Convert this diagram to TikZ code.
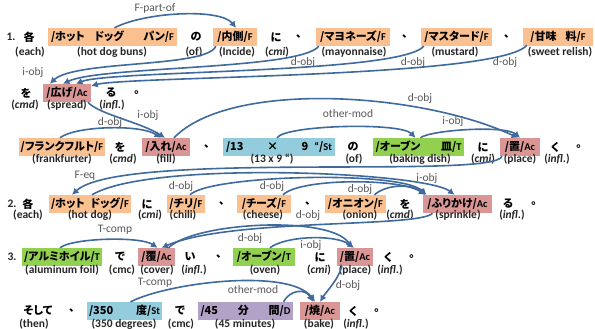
\documentclass[tikz,border=0pt]{standalone}
\usepackage{fontspec}
\setmainfont{Carlito}
\newfontfamily\jpf{Noto Sans CJK JP}[RawFeature=+palt]
\usetikzlibrary{arrows.meta,calc}

\definecolor{colF}{HTML}{FAC090}
\definecolor{colA}{HTML}{D99694}
\definecolor{colS}{HTML}{93CDDD}
\definecolor{colT}{HTML}{92D050}
\definecolor{colD}{HTML}{B3A2C7}
\definecolor{colR}{HTML}{3F6A9E}
\definecolor{colL}{HTML}{595959}
\definecolor{colG}{HTML}{262626}

% type tag after a token, e.g. /F, /Ac
\newcommand\tg[1]{/{\rmfamily\bfseries\fontsize{10.5}{11}\selectfont #1}}

\tikzset{
  jp/.style={font=\jpf\bfseries\fontsize{11}{13}\selectfont, inner sep=0pt},
  bx/.style={jp, minimum height=18pt, inner xsep=2pt},
  Fb/.style={bx, fill=colF},
  Ab/.style={bx, fill=colA},
  Sb/.style={bx, fill=colS},
  Tb/.style={bx, fill=colT},
  Db/.style={bx, fill=colD},
  gl/.style={font=\bfseries\fontsize{11.5}{13}\selectfont, text=colG, inner sep=0pt},
  lab/.style={font=\fontsize{11.5}{13}\selectfont, text=colL, inner sep=0pt},
  rel/.style={draw=colR, line width=1.6pt, -{Latex[length=6.5pt,width=7pt]}},
}

\begin{document}
\begin{tikzpicture}[x=1pt,y=-1pt]
\useasboundingbox (0,0) rectangle (595,329);
\fill[white] (0,0) rectangle (595,329);

% ---------- sentence 1, first line ----------
\node[gl] (num1) at (11,37) {1.};
\node[jp] (r1a) at (29,37) {各};
\node[gl] (r1a-g) at (30,52) {(each)};
\node[Fb, minimum width=129pt] (hdb) at (112.5,37) {\makebox[123pt][s]{/ホット\hfill ドッグ\hfill\hfill パン\tg{F}}};
\node[gl] (hdb-g) at (112,52) {(hot dog buns)};
\node[jp] (r1no) at (196,37) {の};
\node[gl] (r1no-g) at (194,52) {(of)};
\node[Fb, minimum width=44pt] (uchi) at (235,37) {/内側\tg{F}};
\node[gl] (uchi-g) at (237,52) {(Incide)};
\node[jp] (r1ni) at (276,37) {に};
\node[gl] (r1ni-g) at (277,52) {(\textit{cmi})};
\node[jp] (r1c1) at (299,37) {、};
\node[Fb, minimum width=74pt] (mayo) at (353,37) {/マヨネーズ\tg{F}};
\node[gl] (mayo-g) at (354,52) {(mayonnaise)};
\node[jp] (r1c2) at (405,37) {、};
\node[Fb, minimum width=71pt] (must) at (456.5,37) {/マスタード\tg{F}};
\node[gl] (must-g) at (455,52) {(mustard)};
\node[jp] (r1c3) at (507,37) {、};
\node[Fb, minimum width=70pt] (amami) at (558,37) {/甘味\hspace{9pt}料\tg{F}};
\node[gl] (amami-g) at (560,52) {(sweet relish)};

% ---------- sentence 1, second line ----------
\node[jp] (r1o) at (26,93) {を};
\node[gl] (r1o-g) at (25,105) {(\textit{cmd})};
\node[Ab, minimum width=48pt] (kobe) at (67,93) {/広げ\tg{Ac}};
\node[gl] (kobe-g) at (67,105) {(spread)};
\node[jp] (r1ru) at (111,93) {る};
\node[gl] (r1ru-g) at (112,105) {(\textit{infl.})};
\node[jp] (r1p) at (137,93) {。};

% ---------- sentence 1, third line ----------
\node[Fb, minimum width=84pt] (frank) at (62,147) {/フランクフルト\tg{F}};
\node[gl] (frank-g) at (62,159) {(frankfurter)};
\node[jp] (r2o) at (120,147) {を};
\node[gl] (r2o-g) at (123,159) {(\textit{cmd})};
\node[Ab, minimum width=48pt] (ire) at (166,147) {/入れ\tg{Ac}};
\node[gl] (ire-g) at (166,159) {(fill)};
\node[jp] (r2c1) at (207,147) {、};
\node[Sb, minimum width=112pt] (st13) at (279,147) {\makebox[106pt][s]{/13\hfill ×\hfill 9\hspace{6pt}{\rmfamily“}\tg{St}}};
\node[gl] (st13-g) at (272,159) {(13 x 9 “)};
\node[jp] (r2no) at (353,147) {の};
\node[gl] (r2no-g) at (354,159) {(of)};
\node[Tb, minimum width=91pt] (oven2) at (418.5,147) {\makebox[86pt][s]{/オーブン\hfill 皿\tg{T}}};
\node[gl] (oven2-g) at (420,159) {(baking dish)};
\node[jp] (r2ni) at (483,147) {に};
\node[gl] (r2ni-g) at (483,159) {(\textit{cmi})};
\node[Ab, minimum width=40pt] (oki2) at (520,147) {/置\tg{Ac}};
\node[gl] (oki2-g) at (520,159) {(place)};
\node[jp] (r2ku) at (555,147) {く};
\node[gl] (r2ku-g) at (557,159) {(\textit{infl.})};
\node[jp] (r2p) at (579,147) {。};

% ---------- sentence 2 ----------
\node[gl] (num2) at (12,204) {2.};
\node[jp] (r3a) at (28,204) {各};
\node[gl] (r3a-g) at (28,215) {(each)};
\node[Fb, minimum width=82pt] (hd2) at (90,204) {\makebox[78pt][s]{/ホット\hfill ドッグ\tg{F}}};
\node[gl] (hd2-g) at (90,215) {(hot dog)};
\node[jp] (r3ni) at (147,204) {に};
\node[gl] (r3ni-g) at (150,215) {(\textit{cmi})};
\node[Fb, minimum width=38pt] (chili) at (186,204) {/チリ\tg{F}};
\node[gl] (chili-g) at (183,215) {(chili)};
\node[jp] (r3c1) at (222,204) {、};
\node[Fb, minimum width=54pt] (cheese) at (264,204) {/チーズ\tg{F}};
\node[gl] (cheese-g) at (263,215) {(cheese)};
\node[jp] (r3c2) at (308,204) {、};
\node[Fb, minimum width=61pt] (onion) at (355.5,204) {/オニオン\tg{F}};
\node[gl] (onion-g) at (360,215) {(onion)};
\node[jp] (r3o) at (405,204) {を};
\node[gl] (r3o-g) at (400,215) {(\textit{cmd})};
\node[Ab, minimum width=69pt] (furi) at (457.5,204) {/ふりかけ\tg{Ac}};
\node[gl] (furi-g) at (458,215) {(sprinkle)};
\node[jp] (r3ru) at (508,204) {る};
\node[gl] (r3ru-g) at (512,215) {(\textit{infl.})};
\node[jp] (r3p) at (534,204) {。};

% ---------- sentence 3, first line ----------
\node[gl] (num3) at (12,257) {3.};
\node[Tb, minimum width=80pt] (alu) at (62,257) {/アルミホイル\tg{T}};
\node[gl] (alu-g) at (62,270) {(aluminum foil)};
\node[jp] (r4de) at (120,257) {で};
\node[gl] (r4de-g) at (122,270) {(cmc)};
\node[Ab, minimum width=37pt] (kabu) at (156.5,257) {/覆\tg{Ac}};
\node[gl] (kabu-g) at (157,270) {(cover)};
\node[jp] (r4i) at (190,257) {い};
\node[gl] (r4i-g) at (194,270) {(\textit{infl.})};
\node[jp] (r4c1) at (219,257) {、};
\node[Tb, minimum width=62pt] (oven4) at (264,257) {/オーブン\tg{T}};
\node[gl] (oven4-g) at (265,270) {(oven)};
\node[jp] (r4ni) at (320,257) {に};
\node[gl] (r4ni-g) at (319,270) {(\textit{cmi})};
\node[Ab, minimum width=36pt] (oki4) at (355,257) {/置\tg{Ac}};
\node[gl] (oki4-g) at (355,270) {(place)};
\node[jp] (r4ku) at (388,257) {く};
\node[gl] (r4ku-g) at (390,270) {(\textit{infl.})};
\node[jp] (r4p) at (412,257) {。};

% ---------- sentence 3, second line ----------
\node[jp] (r5a) at (38,311) {そして};
\node[gl] (r5a-g) at (34,324) {(then)};
\node[jp] (r5c1) at (72,311) {、};
\node[Sb, minimum width=75pt] (st350) at (124.5,311) {\makebox[71pt][s]{/350\hfill 度\tg{St}}};
\node[gl] (st350-g) at (124,324) {(350 degrees)};
\node[jp] (r5de) at (180,311) {で};
\node[gl] (r5de-g) at (181,324) {(cmc)};
\node[Db, minimum width=95pt] (m45) at (245.5,311) {\makebox[90pt][s]{/45\hfill 分\hfill 間\tg{D}}};
\node[gl] (m45-g) at (245,324) {(45 minutes)};
\node[Ab, minimum width=40pt] (yaki) at (320,311) {/焼\tg{Ac}};
\node[gl] (yaki-g) at (319,324) {(bake)};
\node[jp] (r5ku) at (353,311) {く};
\node[gl] (r5ku-g) at (356,324) {(\textit{infl.})};
\node[jp] (r5p) at (377,311) {。};

% ---------- relations ----------
\draw[rel] ($(hdb.north)+(2,0)$) .. controls (145,12) and (220,8) .. ($(uchi.north)+(1,0)$);
\node[lab] (l-fpo) at (155,8) {F-part-of};

\draw[rel] ($(uchi.south west)+(3,0)$) .. controls (207,68) and (75,60) .. ($(kobe.north west)+(7,0)$);
\node[lab] (l-io1) at (33,72) {i-obj};
\draw[rel] ($(mayo.south west)+(3,0)$) .. controls (300,70) and (100,66) .. ($(kobe.north)+(-4,0)$);
\node[lab] (l-do1) at (303,62) {d-obj};
\draw[rel] ($(must.south west)+(3,0)$) .. controls (400,74) and (110,70) .. ($(kobe.north)+(9,0)$);
\node[lab] (l-do2) at (413,62) {d-obj};
\draw[rel] ($(amami.south west)+(4,-1)$) .. controls (500,78) and (130,76) .. ($(kobe.north east)+(0,2)$);
\node[lab] (l-do3) at (505,62) {d-obj};

\draw[rel] ($(kobe.south)+(21,0)$) .. controls (98,114) and (140,122) .. ($(ire.north)+(-1,0)$);
\node[lab] (l-io2) at (148,115) {i-obj};
\draw[rel] ($(frank.north)+(-2,0)$) .. controls (75,126) and (140,124) .. ($(ire.north)+(-5,0)$);
\node[lab] (l-do4) at (110,122) {d-obj};
\draw[rel] ($(ire.north)+(8,0)$) .. controls (230,80) and (420,92) .. ($(oki2.north)+(-2,0)$);
\node[lab] (l-do5) at (420,98) {d-obj};
\draw[rel] ($(st13.north)+(-2,0)$) .. controls (285,125) and (400,122) .. ($(oven2.north)+(-3,0)$);
\node[lab] (l-om1) at (348,114) {other-mod};
\draw[rel] ($(oven2.north)+(2,0)$) .. controls (430,130) and (505,125) .. (oki2.north);
\node[lab] (l-io3) at (453,121) {i-obj};

\draw[rel] ($(oki2.south)+(-18,0)$) .. controls (495,180) and (120,150) .. ($(hd2.north)+(-18,0)$);
\node[lab] (l-feq) at (85,176) {F-eq};
\draw[rel] ($(hd2.north)+(2,0)$) .. controls (150,160) and (425,172) .. ($(furi.north)+(-3,0)$);
\node[lab] (l-io4) at (427,178) {i-obj};
\draw[rel] ($(chili.north)+(4,0)$) .. controls (210,175) and (400,170) .. ($(furi.north)+(-31,0)$);
\node[lab] (l-do6) at (181,186) {d-obj};
\draw[rel] ($(cheese.north)+(19,0)$) .. controls (300,178) and (400,178) .. ($(furi.north)+(-32,0)$);
\node[lab] (l-do7) at (272,186) {d-obj};
\draw[rel] ($(onion.north)+(19,0)$) .. controls (385,185) and (410,183) .. ($(furi.north)+(-32,0)$);
\node[lab] (l-do8) at (360,189) {d-obj};

\draw[rel] ($(furi.south)+(-25,0)$) .. controls (420,228) and (230,218) .. ($(kabu.north)+(5,0)$);
\node[lab] (l-do9) at (308,215) {d-obj};
\draw[rel] ($(alu.north)+(-2,0)$) .. controls (72,238) and (140,236) .. ($(kabu.north)+(1,0)$);
\node[lab] (l-tc1) at (115,230) {T-comp};
\draw[rel] ($(kabu.north)+(12,0)$) .. controls (195,222) and (330,215) .. ($(oki4.north)+(-3,0)$);
\node[lab] (l-do10) at (250,238) {d-obj};
\draw[rel] ($(oven4.north)+(6,0)$) .. controls (285,236) and (335,234) .. ($(oki4.north)+(-1,0)$);
\node[lab] (l-io5) at (311,245) {i-obj};

\draw[rel] ($(oki4.south)+(-13,0)$) .. controls (338,280) and (326,292) .. (yaki.north);
\node[lab] (l-do11) at (348,285) {d-obj};
\draw[rel] ($(st350.north)+(6,0)$) .. controls (170,282) and (290,268) .. ($(yaki.north)+(-5,0)$);
\node[lab] (l-tc2) at (155,283) {T-comp};
\draw[rel] ($(m45.north)+(38,0)$) .. controls (290,290) and (305,288) .. ($(yaki.north)+(-7,0)$);
\node[lab] (l-om2) at (253,290) {other-mod};
\end{tikzpicture}
\end{document}
